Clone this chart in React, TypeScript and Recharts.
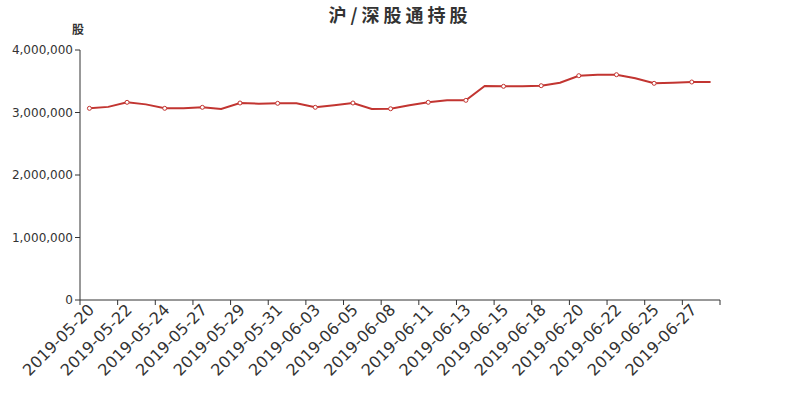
import React from 'react';
import { LineChart, Line, XAxis, YAxis } from 'recharts';

document.body.style.margin = '0';

const dates = [
    '2019-05-20', '2019-05-21', '2019-05-22', '2019-05-23', '2019-05-24', '2019-05-25',
    '2019-05-27', '2019-05-28', '2019-05-29', '2019-05-30', '2019-05-31', '2019-06-01',
    '2019-06-03', '2019-06-04', '2019-06-05', '2019-06-06', '2019-06-08', '2019-06-10',
    '2019-06-11', '2019-06-12', '2019-06-13', '2019-06-14', '2019-06-15', '2019-06-17',
    '2019-06-18', '2019-06-19', '2019-06-20', '2019-06-21', '2019-06-22', '2019-06-24',
    '2019-06-25', '2019-06-26', '2019-06-27', '2019-06-28',
];

const holdings = [
    3067000, 3090000, 3163000, 3130000, 3067000, 3067000,
    3083000, 3056000, 3152000, 3141000, 3147000, 3147000,
    3083000, 3115000, 3152000, 3058000, 3060000, 3115000,
    3163000, 3195000, 3195000, 3424000, 3419000, 3419000,
    3429000, 3477000, 3589000, 3605000, 3605000, 3547000,
    3467000, 3477000, 3488000, 3488000,
];

const yTicks = [0, 1000000, 2000000, 3000000, 4000000];

const data = dates.map((d, i) => ({ date: d, value: holdings[i] }));

const LINE = '#c23531';
const TEXT = '#333';
const BAND = 640 / dates.length;

const DateTick = (props: any) => {
    const { x, y, payload } = props;
    const axisY = y - 8;
    const isLast = payload.index === dates.length - 2;
    return (
        <g>
            <line x1={x - BAND / 2} y1={axisY} x2={x - BAND / 2} y2={axisY + 5} stroke={TEXT} />
            {isLast && (
                <line x1={x + BAND * 1.5} y1={axisY} x2={x + BAND * 1.5} y2={axisY + 5} stroke={TEXT} />
            )}
            <text
                x={x + 2}
                y={y - 1}
                transform={`rotate(-45, ${x + 2}, ${y - 1})`}
                textAnchor="end"
                dominantBaseline="central"
                fill={TEXT}
                fontSize={16}
                fontFamily="DejaVu Sans"
            >
                {payload.value}
            </text>
        </g>
    );
};

const EvenDot = (props: any) => {
    const { cx, cy, index } = props;
    if (index % 2 !== 0) return <g key={`d-${index}`} />;
    return <circle key={`d-${index}`} cx={cx} cy={cy} r={2} fill="#fff" stroke={LINE} strokeWidth={1} />;
};

export default function App() {
    return (
        <div style={{ position: 'relative', width: 800, height: 400, background: '#fff' }}>
            <div
                style={{
                    position: 'absolute', top: 2, left: 0, width: 800, textAlign: 'center',
                    fontFamily: '"Noto Sans CJK SC"', fontWeight: 'bold', fontSize: 18,
                    letterSpacing: 4, color: TEXT, lineHeight: '24px',
                }}
            >
                沪/深股通持股
            </div>
            <div
                style={{
                    position: 'absolute', top: 20, left: 72, fontFamily: '"Noto Sans CJK SC"',
                    fontWeight: 'bold', fontSize: 12, color: TEXT, lineHeight: '18px',
                }}
            >
                股
            </div>
            <LineChart width={800} height={400} data={data} margin={{ top: 50, right: 80, bottom: 0, left: 0 }}>
                <XAxis
                    dataKey="date"
                    interval={1}
                    height={100}
                    padding={{ left: BAND / 2, right: BAND / 2 }}
                    tickLine={false}
                    axisLine={{ stroke: TEXT }}
                    tick={<DateTick />}
                />
                <YAxis
                    width={80}
                    domain={[0, 4000000]}
                    ticks={yTicks}
                    tickSize={5}
                    tickLine={{ stroke: TEXT }}
                    axisLine={{ stroke: TEXT }}
                    tick={{ fill: TEXT, fontSize: 12, fontFamily: 'DejaVu Sans' }}
                    tickFormatter={(v: number) => v.toLocaleString('en-US')}
                />
                <Line
                    type="linear"
                    dataKey="value"
                    stroke={LINE}
                    strokeWidth={2}
                    dot={<EvenDot />}
                    activeDot={false}
                    isAnimationActive={false}
                />
            </LineChart>
        </div>
    );
}
